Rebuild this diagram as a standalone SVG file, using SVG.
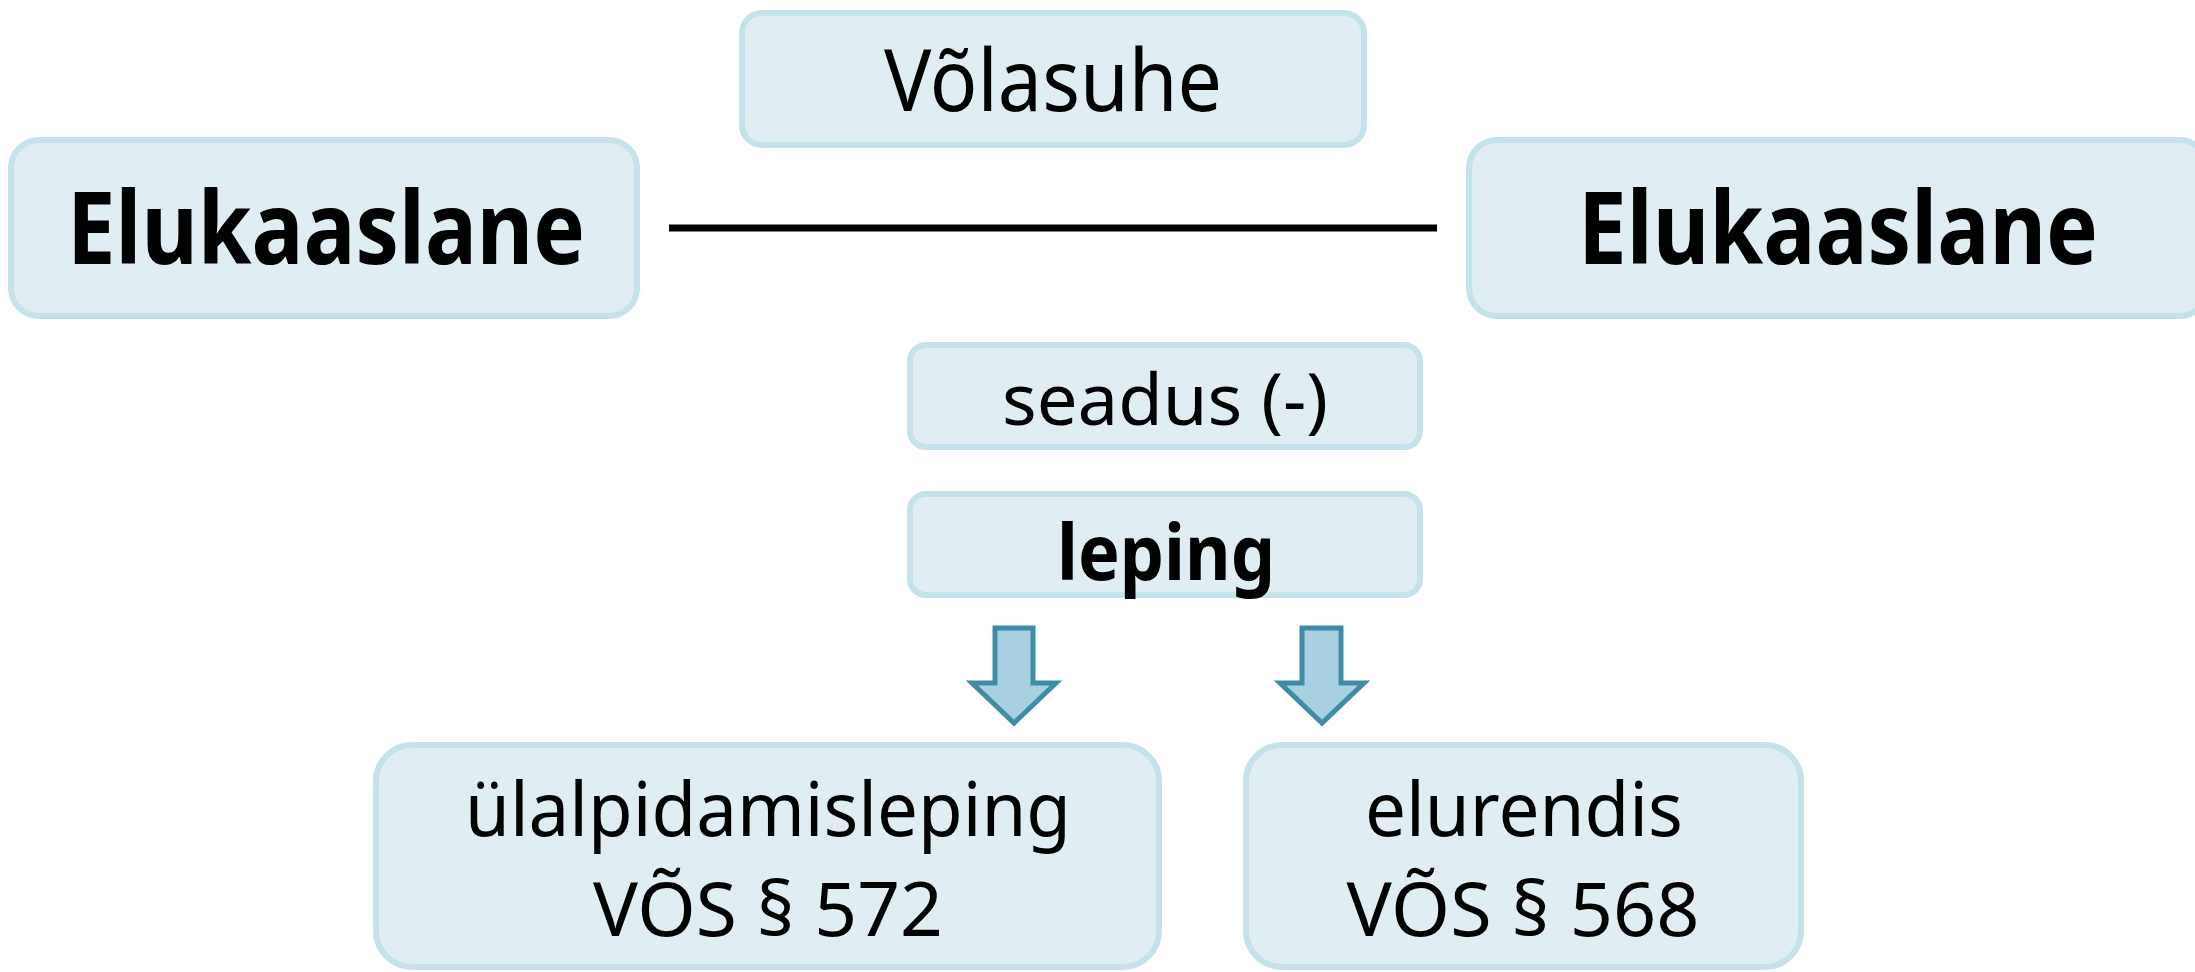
<svg xmlns="http://www.w3.org/2000/svg" width="2195" height="972" viewBox="0 0 2195 972">
<style>
.box{fill:#e0edf3;stroke:#c5e1e9;stroke-width:6}
.t{font-family:"Noto Sans","Open Sans","Liberation Sans",sans-serif;fill:#000;text-anchor:middle}
.b{font-weight:bold}
.arrow{fill:#a8d0e0;stroke:#3e8ca6;stroke-width:5;stroke-linejoin:miter}
</style>
<rect width="2195" height="972" fill="#ffffff"/>
<g id="volasuhe">
<rect class="box" x="742" y="13" width="622" height="132" rx="20"/>
<text class="t" x="1053" y="111" font-size="85" textLength="338" lengthAdjust="spacingAndGlyphs">Võlasuhe</text>
</g>
<g id="elukaaslane-left">
<rect class="box" x="11" y="140" width="626" height="176" rx="28"/>
<text class="t b" x="326" y="264" font-size="100" textLength="518" lengthAdjust="spacingAndGlyphs">Elukaaslane</text>
</g>
<g id="elukaaslane-right">
<rect class="box" x="1469" y="140" width="738" height="176" rx="28"/>
<text class="t b" x="1838" y="264" font-size="100" textLength="520" lengthAdjust="spacingAndGlyphs">Elukaaslane</text>
</g>
<g id="seadus">
<rect class="box" x="910" y="345" width="510" height="102" rx="16"/>
<text class="t" x="1165" y="425" font-size="71" textLength="326" lengthAdjust="spacingAndGlyphs">seadus (-)</text>
</g>
<g id="leping">
<rect class="box" x="910" y="494" width="510" height="101" rx="16"/>
<text class="t b" x="1166" y="580" font-size="77" textLength="218" lengthAdjust="spacingAndGlyphs">leping</text>
</g>
<g id="ulalpidamisleping">
<rect class="box" x="376" y="745" width="783" height="222" rx="36"/>
<text class="t" x="768" y="836" font-size="75" textLength="606" lengthAdjust="spacingAndGlyphs">ülalpidamisleping</text>
<text class="t" x="768" y="936" font-size="75" textLength="350" lengthAdjust="spacingAndGlyphs">VÕS § 572</text>
</g>
<g id="elurendis">
<rect class="box" x="1246" y="745" width="555" height="222" rx="36"/>
<text class="t" x="1524" y="836" font-size="75" textLength="318" lengthAdjust="spacingAndGlyphs">elurendis</text>
<text class="t" x="1523" y="936" font-size="75" textLength="353" lengthAdjust="spacingAndGlyphs">VÕS § 568</text>
</g>
<g id="connectors">
<line x1="669" y1="228" x2="1437" y2="228" stroke="#000" stroke-width="7"/>
<polygon class="arrow" points="995,628 1033,628 1033,683 1056,683 1014,723 972,683 995,683"/>
<polygon class="arrow" points="1302,628 1341,628 1341,683 1364,683 1322,723 1280,683 1302,683"/>
</g>
</svg>
